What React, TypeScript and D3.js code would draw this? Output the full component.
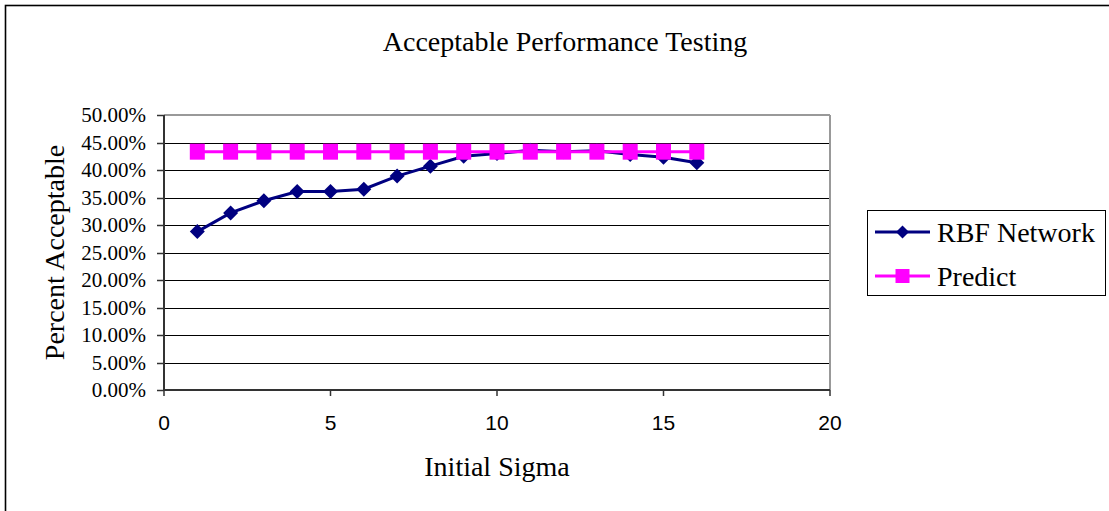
import React from "react";
import * as d3 from "d3";

// Initial sigma values tested
const sigma = [1, 2, 3, 4, 5, 6, 7, 8, 9, 10, 11, 12, 13, 14, 15, 16];
// Fraction of acceptable results from the RBF network
const rbfNetwork = [
  0.288, 0.322, 0.344, 0.361, 0.361, 0.365, 0.389, 0.407, 0.425, 0.43, 0.436,
  0.433, 0.435, 0.428, 0.423, 0.413,
];
// Baseline prediction (constant)
const predict = [
  0.4333, 0.4333, 0.4333, 0.4333, 0.4333, 0.4333, 0.4333, 0.4333, 0.4333,
  0.4333, 0.4333, 0.4333, 0.4333, 0.4333, 0.4333, 0.4333,
];
const seriesNames = ["RBF Network", "Predict"];
const title = "Acceptable Performance Testing";
const xTitle = "Initial Sigma";
const yTitle = "Percent Acceptable";

const W = 1109;
const H = 511;
const plot = { left: 164, right: 830, top: 115, bottom: 390 };
const SERIF = "'Liberation Serif', 'Times New Roman', serif";
const SANS = "'Liberation Sans', Arial, sans-serif";
const NAVY = "#000080";
const MAGENTA = "#FF00FF";

const diamond = (r: number) => `M0,${-r}L${r},0L0,${r}L${-r},0Z`;
const square = (w: number, h: number) =>
  `M${-w / 2},${-h / 2}h${w}v${h}h${-w}Z`;

export default function App() {
  const x = d3.scaleLinear().domain([0, 20]).range([plot.left, plot.right]);
  const y = d3.scaleLinear().domain([0, 0.5]).range([plot.bottom, plot.top]);
  const yTicks = y.ticks(10);
  const xTicks = x.ticks(4);
  const fmt = d3.format(".2%");

  const rbfPts = sigma.map((s, i) => [s, rbfNetwork[i]] as [number, number]);
  const predPts = sigma.map((s, i) => [s, predict[i]] as [number, number]);
  const line = d3
    .line<[number, number]>()
    .x((d) => x(d[0]))
    .y((d) => y(d[1]));

  const legend = { x: 867, y: 210, w: 238, h: 85 };
  const rows = [232, 276];

  return (
    <svg
      width={W}
      height={H}
      style={{ position: "fixed", left: 0, top: 0, background: "#fff" }}
    >
      <rect x={0} y={0} width={W} height={H} fill="#fff" />
      {/* chart frame */}
      <rect
        x={5.5}
        y={5.5}
        width={W + 20}
        height={H + 20}
        fill="none"
        stroke="#000"
        strokeWidth={1.6}
      />
      <text
        x={565}
        y={51}
        textAnchor="middle"
        fontFamily={SERIF}
        fontSize={28}
        fill="#000"
      >
        {title}
      </text>

      {/* gridlines */}
      {yTicks.map((t) => (
        <line
          key={"g" + t}
          x1={plot.left}
          x2={plot.right}
          y1={Math.round(y(t)) + 0.5}
          y2={Math.round(y(t)) + 0.5}
          stroke="#000"
          strokeWidth={1}
        />
      ))}
      {/* plot border (top and right) */}
      <line
        x1={plot.left}
        x2={plot.right}
        y1={plot.top}
        y2={plot.top}
        stroke="#999"
        strokeWidth={2}
      />
      <line
        x1={plot.right}
        x2={plot.right}
        y1={plot.top}
        y2={plot.bottom}
        stroke="#999"
        strokeWidth={2}
      />

      {/* y axis */}
      <line
        x1={plot.left}
        x2={plot.left}
        y1={plot.top}
        y2={plot.bottom}
        stroke="#333"
        strokeWidth={2}
      />
      {yTicks.map((t) => (
        <g key={"y" + t}>
          <line
            x1={plot.left - 7}
            x2={plot.left}
            y1={Math.round(y(t)) + 0.5}
            y2={Math.round(y(t)) + 0.5}
            stroke="#333"
            strokeWidth={1.5}
          />
          <text
            x={146}
            y={y(t)}
            dy="0.35em"
            textAnchor="end"
            fontFamily={SERIF}
            fontSize={21}
            fill="#000"
          >
            {fmt(t)}
          </text>
        </g>
      ))}

      {/* x axis */}
      <line
        x1={plot.left}
        x2={plot.right}
        y1={plot.bottom}
        y2={plot.bottom}
        stroke="#333"
        strokeWidth={2}
      />
      {xTicks.map((t) => (
        <g key={"x" + t}>
          <line
            x1={x(t)}
            x2={x(t)}
            y1={plot.bottom}
            y2={plot.bottom + 6}
            stroke="#333"
            strokeWidth={1.5}
          />
          <text
            x={x(t)}
            y={430}
            textAnchor="middle"
            fontFamily={SANS}
            fontSize={21}
            fill="#000"
          >
            {t}
          </text>
        </g>
      ))}

      <text
        x={497}
        y={476}
        textAnchor="middle"
        fontFamily={SERIF}
        fontSize={28}
        fill="#000"
      >
        {xTitle}
      </text>
      <text
        transform={`translate(64,${(plot.top + plot.bottom) / 2}) rotate(-90)`}
        textAnchor="middle"
        fontFamily={SERIF}
        fontSize={28}
        fill="#000"
      >
        {yTitle}
      </text>

      {/* RBF Network series */}
      <path d={line(rbfPts) || ""} fill="none" stroke={NAVY} strokeWidth={3} />
      {rbfPts.map((d, i) => (
        <path
          key={"r" + i}
          d={diamond(7.5)}
          transform={`translate(${x(d[0])},${y(d[1])})`}
          fill={NAVY}
        />
      ))}

      {/* Predict series */}
      <path
        d={line(predPts) || ""}
        fill="none"
        stroke={MAGENTA}
        strokeWidth={3}
      />
      {predPts.map((d, i) => (
        <path
          key={"p" + i}
          d={square(15, 16)}
          transform={`translate(${x(d[0])},${y(d[1])})`}
          fill={MAGENTA}
        />
      ))}

      {/* legend */}
      <rect
        x={legend.x + 0.5}
        y={legend.y + 0.5}
        width={legend.w}
        height={legend.h}
        fill="#fff"
        stroke="#000"
        strokeWidth={1}
      />
      {seriesNames.map((name, i) => {
        const color = i === 0 ? NAVY : MAGENTA;
        const cy = rows[i];
        return (
          <g key={name}>
            <line
              x1={875}
              x2={930}
              y1={cy}
              y2={cy}
              stroke={color}
              strokeWidth={3}
            />
            <path
              d={i === 0 ? diamond(6.5) : square(14, 14)}
              transform={`translate(902.5,${cy})`}
              fill={color}
            />
            <text
              x={937}
              y={cy}
              dy="0.35em"
              fontFamily={SERIF}
              fontSize={28}
              fill="#000"
            >
              {name}
            </text>
          </g>
        );
      })}
    </svg>
  );
}
